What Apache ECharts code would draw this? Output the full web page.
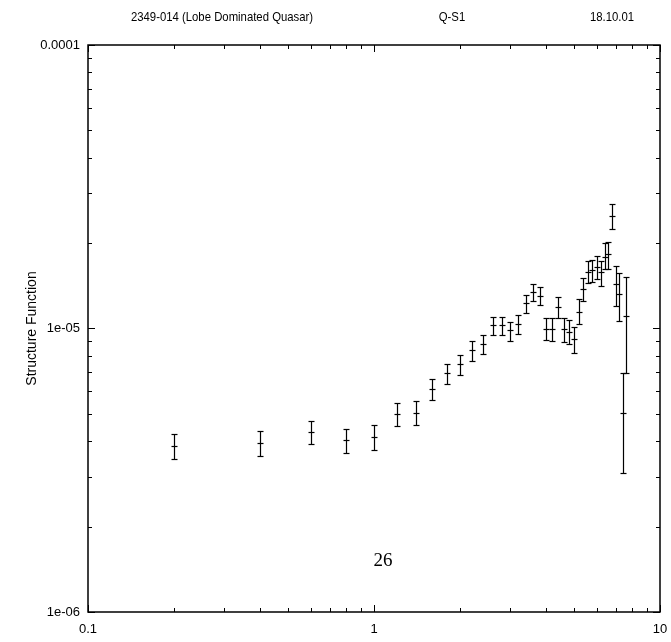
<!DOCTYPE html>
<html>
<head>
<meta charset="utf-8">
<script src="https://cdn.jsdelivr.net/npm/echarts@6/dist/echarts.min.js"></script>
<style>
html,body{margin:0;padding:0;background:#fff;}
#chart{width:671px;height:642px;}
</style>
</head>
<body>
<div id="chart"></div>
<script>
// ---- data ----
const lags = [0.2,0.4,0.6,0.8,1.0,1.2,1.4,1.6,1.8,2.0,2.2,2.4,2.6,2.8,3.0,3.2,3.4,3.6,3.8,4.0,4.2,4.4,4.6,4.8,5.0,5.2,5.4,5.6,5.8,6.0,6.2,6.4,6.6,6.8,7.0,7.2,7.4,7.6];
const sfValues = [3.85e-6,3.95e-6,4.31e-6,4.04e-6,4.14e-6,4.99e-6,5.03e-6,6.12e-6,6.97e-6,7.50e-6,8.40e-6,8.82e-6,10.29e-6,10.29e-6,9.88e-6,10.37e-6,12.30e-6,13.45e-6,13.02e-6,9.96e-6,9.96e-6,11.91e-6,9.96e-6,9.72e-6,9.18e-6,11.43e-6,13.78e-6,15.82e-6,16.08e-6,16.48e-6,15.82e-6,17.87e-6,18.31e-6,24.93e-6,14.35e-6,13.23e-6,5.03e-6,11.07e-6];
const sfLow = [3.47e-6,3.55e-6,3.91e-6,3.64e-6,3.73e-6,4.53e-6,4.57e-6,5.60e-6,6.37e-6,6.86e-6,7.68e-6,8.13e-6,9.49e-6,9.49e-6,9.03e-6,9.56e-6,11.34e-6,12.50e-6,12.10e-6,9.11e-6,9.03e-6,10.89e-6,8.96e-6,8.82e-6,8.20e-6,10.37e-6,12.50e-6,14.47e-6,14.59e-6,14.95e-6,14.12e-6,16.21e-6,16.21e-6,22.44e-6,12.00e-6,10.63e-6,3.09e-6,6.97e-6];
const sfHigh = [4.25e-6,4.35e-6,4.72e-6,4.42e-6,4.57e-6,5.46e-6,5.55e-6,6.64e-6,7.50e-6,8.06e-6,9.03e-6,9.49e-6,10.98e-6,10.98e-6,10.54e-6,11.16e-6,13.13e-6,14.35e-6,14.01e-6,10.89e-6,10.89e-6,12.91e-6,10.89e-6,10.71e-6,10.12e-6,12.71e-6,15.07e-6,17.30e-6,17.44e-6,18.02e-6,17.30e-6,20.03e-6,20.19e-6,27.48e-6,16.62e-6,15.69e-6,6.97e-6,15.19e-6];

const xTickValues = [0.1,1,10];
const xTickLabels = ['0.1','1','10'];
const yTickValues = [1e-6,1e-5,1e-4];
const yTickLabels = ['1e-06','1e-05','0.0001'];
const xMinorTicks = [0.2,0.3,0.4,0.5,0.6,0.7,0.8,0.9,2,3,4,5,6,7,8,9];
const yMinorTicks = [2e-6,3e-6,4e-6,5e-6,6e-6,7e-6,8e-6,9e-6,2e-5,3e-5,4e-5,5e-5,6e-5,7e-5,8e-5,9e-5];

const headerLeft = '2349-014 (Lobe Dominated Quasar)';
const headerMid = 'Q-S1';
const headerRight = '18.10.01';
const yAxisTitle = 'Structure Function';
const pageNumber = '26';

// ---- chart ----
function lookupLabel(vals, labels, v){
  const lv = Math.log10(v);
  for (let i=0;i<vals.length;i++){ if (Math.abs(Math.log10(vals[i])-lv)<0.01) return labels[i]; }
  return '';
}
const FONT = '"Liberation Sans", Arial, sans-serif';
const FS = 13;
const chart = echarts.init(document.getElementById('chart'), null, {renderer:'canvas'});

const errData = lags.map((x,i)=>[x, sfValues[i], sfLow[i], sfHigh[i]]);
const xMinorData = xMinorTicks.map(v=>[v, 1e-5]);
const yMinorData = yMinorTicks.map(v=>[1, v]);

function axisCommon(){
  return {
    type:'log', logBase:10,
    axisLine:{show:false},
    splitLine:{show:false},
    axisTick:{show:true, inside:true, length:7, lineStyle:{color:'#000', width:1}},
    minorTick:{show:false}
  };
}
function headerText(txt, cx){
  return {type:'text', x:cx, y:17, scaleX:0.84, originX:0, style:{text:txt, fill:'#000', font:'13.5px '+FONT, textAlign:'center', textVerticalAlign:'middle'}};
}

const option = {
  animation:false,
  backgroundColor:'#fff',
  grid:{left:88, right:11, top:45, bottom:30, show:true, borderColor:'#000', borderWidth:1.5, backgroundColor:'transparent'},
  xAxis:[
    Object.assign(axisCommon(), {min:0.1, max:10, position:'bottom',
      axisLabel:{show:true, margin:11, color:'#000', fontSize:FS, fontFamily:FONT,
        formatter:v=>lookupLabel(xTickValues, xTickLabels, v)}}),
    Object.assign(axisCommon(), {min:0.1, max:10, position:'top', axisLabel:{show:false}})
  ],
  yAxis:[
    Object.assign(axisCommon(), {min:1e-6, max:1e-4, position:'left',
      name:yAxisTitle, nameLocation:'middle', nameGap:49, nameRotate:90, nameMoveOverlap:false,
      nameTextStyle:{color:'#000', fontSize:14, fontFamily:FONT},
      axisLabel:{show:true, margin:8, color:'#000', fontSize:FS, fontFamily:FONT,
        formatter:v=>lookupLabel(yTickValues, yTickLabels, v)}}),
    Object.assign(axisCommon(), {min:1e-6, max:1e-4, position:'right', axisLabel:{show:false}})
  ],
  graphic:[
    headerText(headerLeft, 222),
    headerText(headerMid, 452),
    headerText(headerRight, 612),
    {type:'text', x:383, y:561, style:{text:pageNumber, fill:'#000', font:'19px "Liberation Serif", "Times New Roman", serif', textAlign:'center', textVerticalAlign:'middle'}}
  ],
  series:[
    {
      type:'custom', name:'minorX', xAxisIndex:0, yAxisIndex:0, data:xMinorData, silent:true, clip:false,
      encode:{x:0, y:1},
      renderItem:function(params, api){
        const cs = params.coordSys;
        const px = Math.round(api.coord([api.value(0), 1e-5])[0]) + 0.5;
        const len = 4;
        return {type:'group', children:[
          {type:'line', shape:{x1:px, y1:cs.y+cs.height, x2:px, y2:cs.y+cs.height-len}, style:{stroke:'#000', lineWidth:1}},
          {type:'line', shape:{x1:px, y1:cs.y, x2:px, y2:cs.y+len}, style:{stroke:'#000', lineWidth:1}}
        ]};
      }
    },
    {
      type:'custom', name:'minorY', xAxisIndex:0, yAxisIndex:0, data:yMinorData, silent:true, clip:false,
      encode:{x:0, y:1},
      renderItem:function(params, api){
        const cs = params.coordSys;
        const py = Math.round(api.coord([1, api.value(1)])[1]) + 0.5;
        const len = 4;
        return {type:'group', children:[
          {type:'line', shape:{x1:cs.x, y1:py, x2:cs.x+len, y2:py}, style:{stroke:'#000', lineWidth:1}},
          {type:'line', shape:{x1:cs.x+cs.width, y1:py, x2:cs.x+cs.width-len, y2:py}, style:{stroke:'#000', lineWidth:1}}
        ]};
      }
    },
    {
      type:'custom', name:'sf', xAxisIndex:0, yAxisIndex:0, data:errData, clip:false,
      encode:{x:0, y:[1,2,3]},
      renderItem:function(params, api){
        const x = api.value(0);
        const c = api.coord([x, api.value(1)]);
        const lo = api.coord([x, api.value(2)]);
        const hi = api.coord([x, api.value(3)]);
        const px = Math.round(c[0]) + 0.5;
        const cy = Math.round(c[1]) + 0.5;
        const ly = Math.round(lo[1]) + 0.5;
        const hy = Math.round(hi[1]) + 0.5;
        const cw = 3, pw = 3;
        const st = {stroke:'#000', lineWidth:1.2};
        return {type:'group', children:[
          {type:'line', shape:{x1:px, y1:hy, x2:px, y2:ly}, style:st},
          {type:'line', shape:{x1:px-cw, y1:hy, x2:px+cw, y2:hy}, style:st},
          {type:'line', shape:{x1:px-cw, y1:ly, x2:px+cw, y2:ly}, style:st},
          {type:'line', shape:{x1:px-pw, y1:cy, x2:px+pw, y2:cy}, style:st}
        ]};
      }
    }
  ]
};
chart.setOption(option);
</script>
</body>
</html>
